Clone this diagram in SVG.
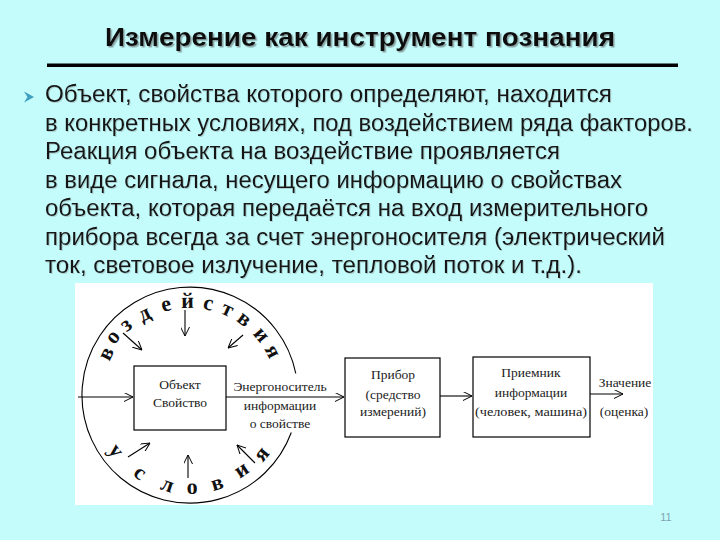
<svg xmlns="http://www.w3.org/2000/svg" width="720" height="540" viewBox="0 0 720 540">
<defs>
<marker id="arr" viewBox="0 0 10 10" refX="10" refY="5" markerWidth="9" markerHeight="9" markerUnits="userSpaceOnUse" orient="auto">
<path d="M0,0 L10,5 L0,10" fill="none" stroke="#000" stroke-width="1.1"/>
</marker>
<filter id="sh" x="-5%" y="-20%" width="110%" height="140%">
<feDropShadow dx="1.5" dy="1.5" stdDeviation="0.6" flood-color="#7a8c8c" flood-opacity="0.8"/>
</filter>
<filter id="sh2" x="-5%" y="-20%" width="110%" height="140%">
<feDropShadow dx="1" dy="1" stdDeviation="0.5" flood-color="#8aa0a0" flood-opacity="0.45"/>
</filter>
</defs>
<style>
.title{font-family:"Liberation Sans",Arial,sans-serif;font-weight:bold;font-size:26px;fill:#111}
.body{font-family:"Liberation Sans",Arial,sans-serif;font-size:23.5px;fill:#141414}
.lbl{font-family:"Liberation Serif","Times New Roman",serif;font-size:13.5px;fill:#222;text-anchor:middle}
.circ{font-family:"Liberation Serif","Times New Roman",serif;font-weight:bold;font-size:22px;fill:#111;text-anchor:middle}
.box{fill:#fff;stroke:#000;stroke-width:1.2}
.ln{fill:none;stroke:#000;stroke-width:1.1}
</style>
<rect width="720" height="540" fill="#C4FBFB"/>

<g id="title">
<text class="title" x="360" y="46" text-anchor="middle" textLength="510" lengthAdjust="spacingAndGlyphs" filter="url(#sh)">Измерение как инструмент познания</text>
<rect x="47" y="63.5" width="631" height="3.5" fill="#000"/>
</g>

<g id="bodytext">
<polygon points="24,91.5 34,97 24,102.5 27.5,97" fill="#3E9FBF"/>
<g filter="url(#sh2)">
<text class="body" x="45" y="102" textLength="567" lengthAdjust="spacingAndGlyphs">Объект, свойства которого определяют, находится</text>
<text class="body" x="45" y="130.5" textLength="648" lengthAdjust="spacingAndGlyphs">в конкретных условиях, под воздействием ряда факторов.</text>
<text class="body" x="45" y="159" textLength="515" lengthAdjust="spacingAndGlyphs">Реакция объекта на воздействие проявляется</text>
<text class="body" x="45" y="187.5" textLength="577" lengthAdjust="spacingAndGlyphs">в виде сигнала, несущего информацию о свойствах</text>
<text class="body" x="45" y="216" textLength="603" lengthAdjust="spacingAndGlyphs">объекта, которая передаётся на вход измерительного</text>
<text class="body" x="45" y="244.5" textLength="620" lengthAdjust="spacingAndGlyphs">прибора всегда за счет энергоносителя (электрический</text>
<text class="body" x="45" y="273" textLength="537" lengthAdjust="spacingAndGlyphs">ток, световое излучение, тепловой поток и т.д.).</text>
</g>
</g>

<rect x="75" y="283" width="578" height="222" fill="#fff"/>

<g id="environment">
<path class="ln" d="M291.3,432.5 A108,108 0 1 1 295.8,373.5"/>
<g id="vozdeystviya">
<text class="circ" transform="translate(106.6,353.8) rotate(-63.7)" y="6">в</text>
<text class="circ" transform="translate(113.1,337.3) rotate(-51.1)" y="6">о</text>
<text class="circ" transform="translate(126.2,325.1) rotate(-38.4)" y="6">з</text>
<text class="circ" transform="translate(144.7,314.3) rotate(-25.8)" y="6">д</text>
<text class="circ" transform="translate(166.1,305.1) rotate(-13.2)" y="6">е</text>
<text class="circ" transform="translate(187.6,302.0) rotate(-0.6)" y="6">й</text>
<text class="circ" transform="translate(208.3,303.9) rotate(12.1)" y="6">с</text>
<text class="circ" transform="translate(227.4,309.8) rotate(24.7)" y="6">т</text>
<text class="circ" transform="translate(244.1,319.4) rotate(37.3)" y="6">в</text>
<text class="circ" transform="translate(261.1,335.0) rotate(49.9)" y="6">и</text>
<text class="circ" transform="translate(272.4,351.4) rotate(62.6)" y="6">я</text>
</g>
<g id="usloviya">
<text class="circ" transform="translate(115.7,451.0) rotate(53)" y="6">у</text>
<text class="circ" transform="translate(139.7,473.2) rotate(35.8)" y="6">с</text>
<text class="circ" transform="translate(167.3,485.2) rotate(18.5)" y="6">л</text>
<text class="circ" transform="translate(192.2,488.0) rotate(-1.2)" y="6">о</text>
<text class="circ" transform="translate(217.1,483.9) rotate(-17)" y="6">в</text>
<text class="circ" transform="translate(241.7,470.3) rotate(-33.7)" y="6">и</text>
<text class="circ" transform="translate(261.8,454.3) rotate(-50.4)" y="6">я</text>
</g>
</g>

<g id="object">
<rect class="box" x="134" y="366" width="92" height="64"/>
<text class="lbl" x="180" y="389">Объект</text>
<text class="lbl" x="180" y="407">Свойство</text>
</g>

<g id="carrier-label">
<text class="lbl" x="280" y="391">Энергоноситель</text>
<text class="lbl" x="280" y="410">информации</text>
<text class="lbl" x="280" y="428">о свойстве</text>
</g>

<g id="pribor">
<rect class="box" x="345" y="358" width="95" height="79"/>
<text class="lbl" x="393" y="379">Прибор</text>
<text class="lbl" x="393" y="399">(средство</text>
<text class="lbl" x="393" y="416">измерений)</text>
</g>

<g id="priemnik">
<rect class="box" x="473" y="357" width="117" height="80"/>
<text class="lbl" x="531" y="377">Приемник</text>
<text class="lbl" x="531" y="397">информации</text>
<text class="lbl" x="531" y="416" textLength="112" lengthAdjust="spacingAndGlyphs">(человек, машина)</text>
</g>

<g id="value-label">
<text class="lbl" x="625" y="387">Значение</text>
<text class="lbl" x="624" y="416">(оценка)</text>
</g>

<g id="connectors">
<line class="ln" x1="78" y1="397" x2="133" y2="397" marker-end="url(#arr)"/>
<line class="ln" x1="226" y1="397" x2="344" y2="397" marker-end="url(#arr)"/>
<line class="ln" x1="440" y1="396" x2="472" y2="396" marker-end="url(#arr)"/>
<line class="ln" x1="590" y1="394" x2="623" y2="394" marker-end="url(#arr)"/>
<line class="ln" x1="185" y1="310" x2="185" y2="336" marker-end="url(#arr)"/>
<line class="ln" x1="123" y1="333" x2="142" y2="350" marker-end="url(#arr)"/>
<line class="ln" x1="243" y1="335" x2="228" y2="348" marker-end="url(#arr)"/>
<line class="ln" x1="128" y1="457" x2="150" y2="443" marker-end="url(#arr)"/>
<line class="ln" x1="188" y1="478" x2="188" y2="455" marker-end="url(#arr)"/>
<line class="ln" x1="255" y1="463" x2="237" y2="445" marker-end="url(#arr)"/>
</g>

<text x="666" y="521" font-family="Liberation Sans,Arial,sans-serif" font-size="11" fill="#7fa6b0" text-anchor="middle">11</text>
</svg>
